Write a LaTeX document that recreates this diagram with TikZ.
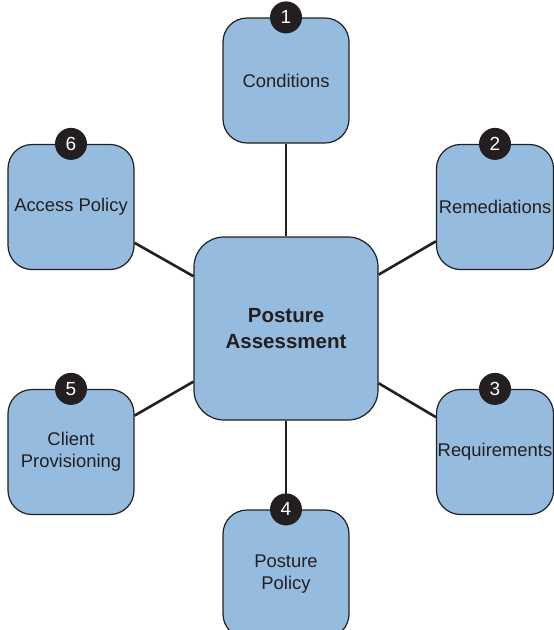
\documentclass[tikz,border=0pt]{standalone}
\usepackage{fontspec}
\setmainfont{Liberation Sans}
\usetikzlibrary{positioning}
\definecolor{boxfill}{RGB}{149,188,223}
\definecolor{ink}{RGB}{35,31,32}

\begin{document}
\begin{tikzpicture}[x=1pt, y=-1pt,
  box/.style={draw=ink, line width=1.2pt, rounded corners=24pt, fill=boxfill,
    minimum width=126pt, minimum height=125pt, inner sep=0pt, align=center,
    text=ink, font=\fontsize{18.4}{21.8}\selectfont},
  hub/.style={box, minimum width=184pt, minimum height=183pt, rounded corners=30pt,
    font=\fontsize{20.5}{26}\selectfont\bfseries},
  num/.style={circle, fill=ink, text=white, minimum size=32pt, inner sep=0pt,
    font=\fontsize{19}{19}\selectfont},
  link/.style={draw=ink, line width=2.6pt}]
  \useasboundingbox (0,0) rectangle (554,630);
  \clip (0,0) rectangle (554,630);

  % centre box and the six steps round it
  \path (286,328.5) coordinate (mid);
  \node[hub] (pa) at (mid) {Posture\\Assessment};
  \node[box] (cond) at (286,80.5) {Conditions};
  \node[box, minimum width=117pt] (rem) at (495,207) {Remediations};
  \node[box, minimum width=117pt] (req) at (495,452) {Requirements};
  \node[box, minimum height=128pt] (pol) at (286,574) {Posture\\Policy};
  \node[box] (prov) at (71,452) {Client\\Provisioning};
  \node[box] (acc) at (71,207) {Access Policy};

  \draw[link] (pa) -- (cond);
  \draw[link] (pa) -- (rem);
  \draw[link] (pa) -- (req);
  \draw[link] (pa) -- (pol);
  \draw[link] (pa) -- (prov);
  \draw[link] (pa) -- (acc);

  % step numbers on the top edges
  \node[num] (n1) at (cond.north) {1};
  \node[num] (n2) at (rem.north) {2};
  \node[num] (n3) at (req.north) {3};
  \node[num] (n4) at (pol.north) {4};
  \node[num] (n5) at (prov.north) {5};
  \node[num] (n6) at (acc.north) {6};
\end{tikzpicture}
\end{document}
